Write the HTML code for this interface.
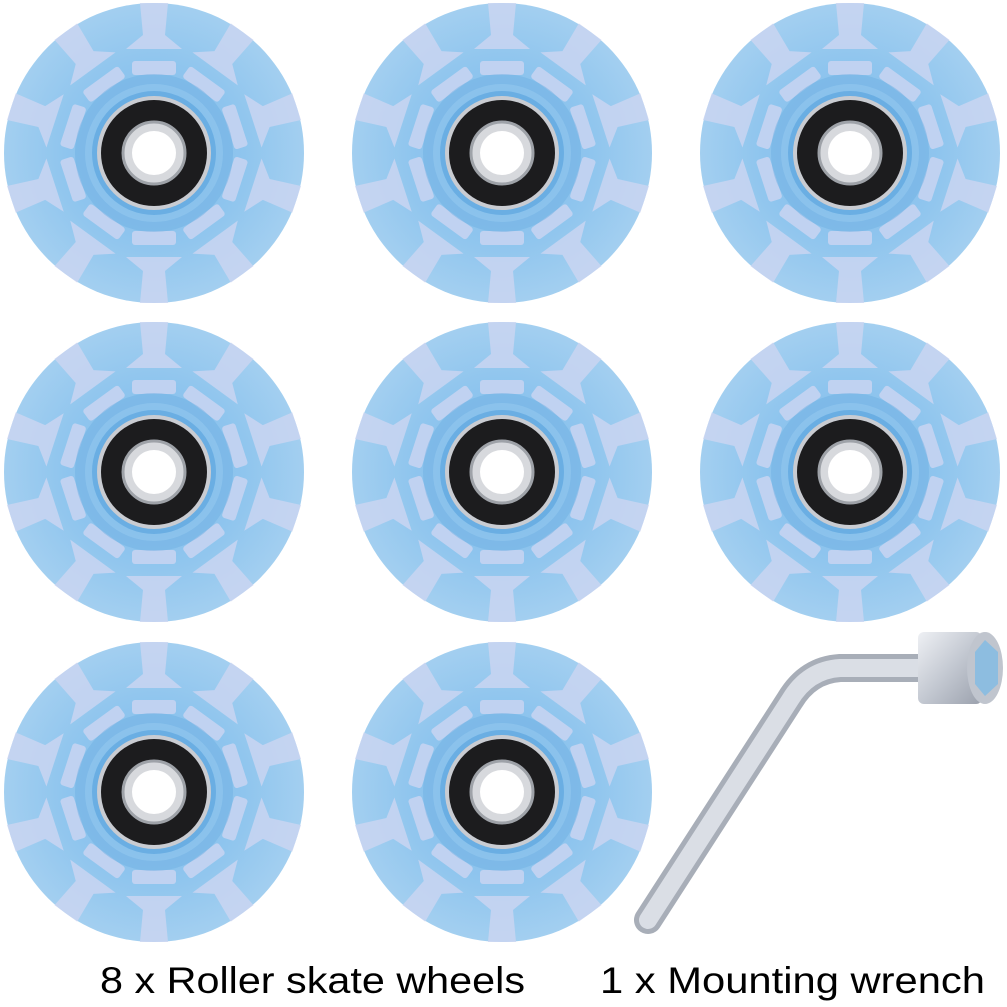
<!DOCTYPE html>
<html><head><style>body{margin:0;background:#fff}svg{display:block}</style></head>
<body>
<svg width="1007" height="1007" viewBox="0 0 1007 1007" xmlns="http://www.w3.org/2000/svg">
<defs>
<radialGradient id="wb" cx="0.5" cy="0.5" r="0.5">
<stop offset="0" stop-color="#7fbbe8"/><stop offset="0.6" stop-color="#8fc5ee"/><stop offset="1" stop-color="#a3cff0"/>
</radialGradient>
<linearGradient id="rod" x1="0" y1="0" x2="1" y2="1">
<stop offset="0" stop-color="#eef0f4"/><stop offset="0.5" stop-color="#c4c9d2"/><stop offset="1" stop-color="#9ba1ad"/>
</linearGradient>
<symbol id="w" viewBox="-150 -150 300 300" overflow="visible">
<circle r="150" fill="url(#wb)"/>
<g fill="#cdd6f2" opacity="0.8">
<g id="sp"><path d="M-14,-150 L14,-150 L11,-118 L28,-104 L-28,-104 L-11,-118 Z"/><rect x="-22" y="-92" width="44" height="14" rx="3"/></g>
<use href="#sp" transform="rotate(36)"/><use href="#sp" transform="rotate(72)"/><use href="#sp" transform="rotate(108)"/><use href="#sp" transform="rotate(144)"/>
<use href="#sp" transform="rotate(180)"/><use href="#sp" transform="rotate(216)"/><use href="#sp" transform="rotate(252)"/><use href="#sp" transform="rotate(288)"/><use href="#sp" transform="rotate(324)"/>
</g>
<circle r="74" fill="none" stroke="#6fb0e4" stroke-width="10" opacity="0.5"/>
<circle r="62" fill="#6aaee3"/>
<circle r="57" fill="#c9ccd2"/>
<circle r="53" fill="#1c1c1e"/>
<circle r="31" fill="#d7d9dd" stroke="#9ea2a8" stroke-width="3"/>
<circle r="22" fill="#fff"/>
</symbol>
</defs>
<use href="#w" x="4" y="3" width="300" height="300"/>
<use href="#w" x="352" y="3" width="300" height="300"/>
<use href="#w" x="700" y="3" width="300" height="300"/>
<use href="#w" x="4" y="322" width="300" height="300"/>
<use href="#w" x="352" y="322" width="300" height="300"/>
<use href="#w" x="700" y="322" width="300" height="300"/>
<use href="#w" x="4" y="642" width="300" height="300"/>
<use href="#w" x="352" y="642" width="300" height="300"/>
<path d="M648,920 L790,700 Q808,670 840,668 L925,668" fill="none" stroke="#a8aeb8" stroke-width="28" stroke-linecap="round"/>
<path d="M648,920 L790,700 Q808,670 840,668 L925,668" fill="none" stroke="#dadee5" stroke-width="18" stroke-linecap="round"/>
<rect x="918" y="632" width="64" height="72" rx="6" fill="url(#rod)"/>
<ellipse cx="985" cy="668" rx="18" ry="36" fill="#c0c5ce"/>
<polygon points="985,640 998,652 998,684 985,696 975,684 975,652" fill="#8dbde0"/>
<g font-family="Liberation Sans, sans-serif" font-size="37" fill="#000">
<text x="100" y="993" textLength="425" lengthAdjust="spacingAndGlyphs">8 x Roller skate wheels</text>
<text x="600" y="993" textLength="385" lengthAdjust="spacingAndGlyphs">1 x Mounting wrench</text>
</g>
</svg>
</body></html>
